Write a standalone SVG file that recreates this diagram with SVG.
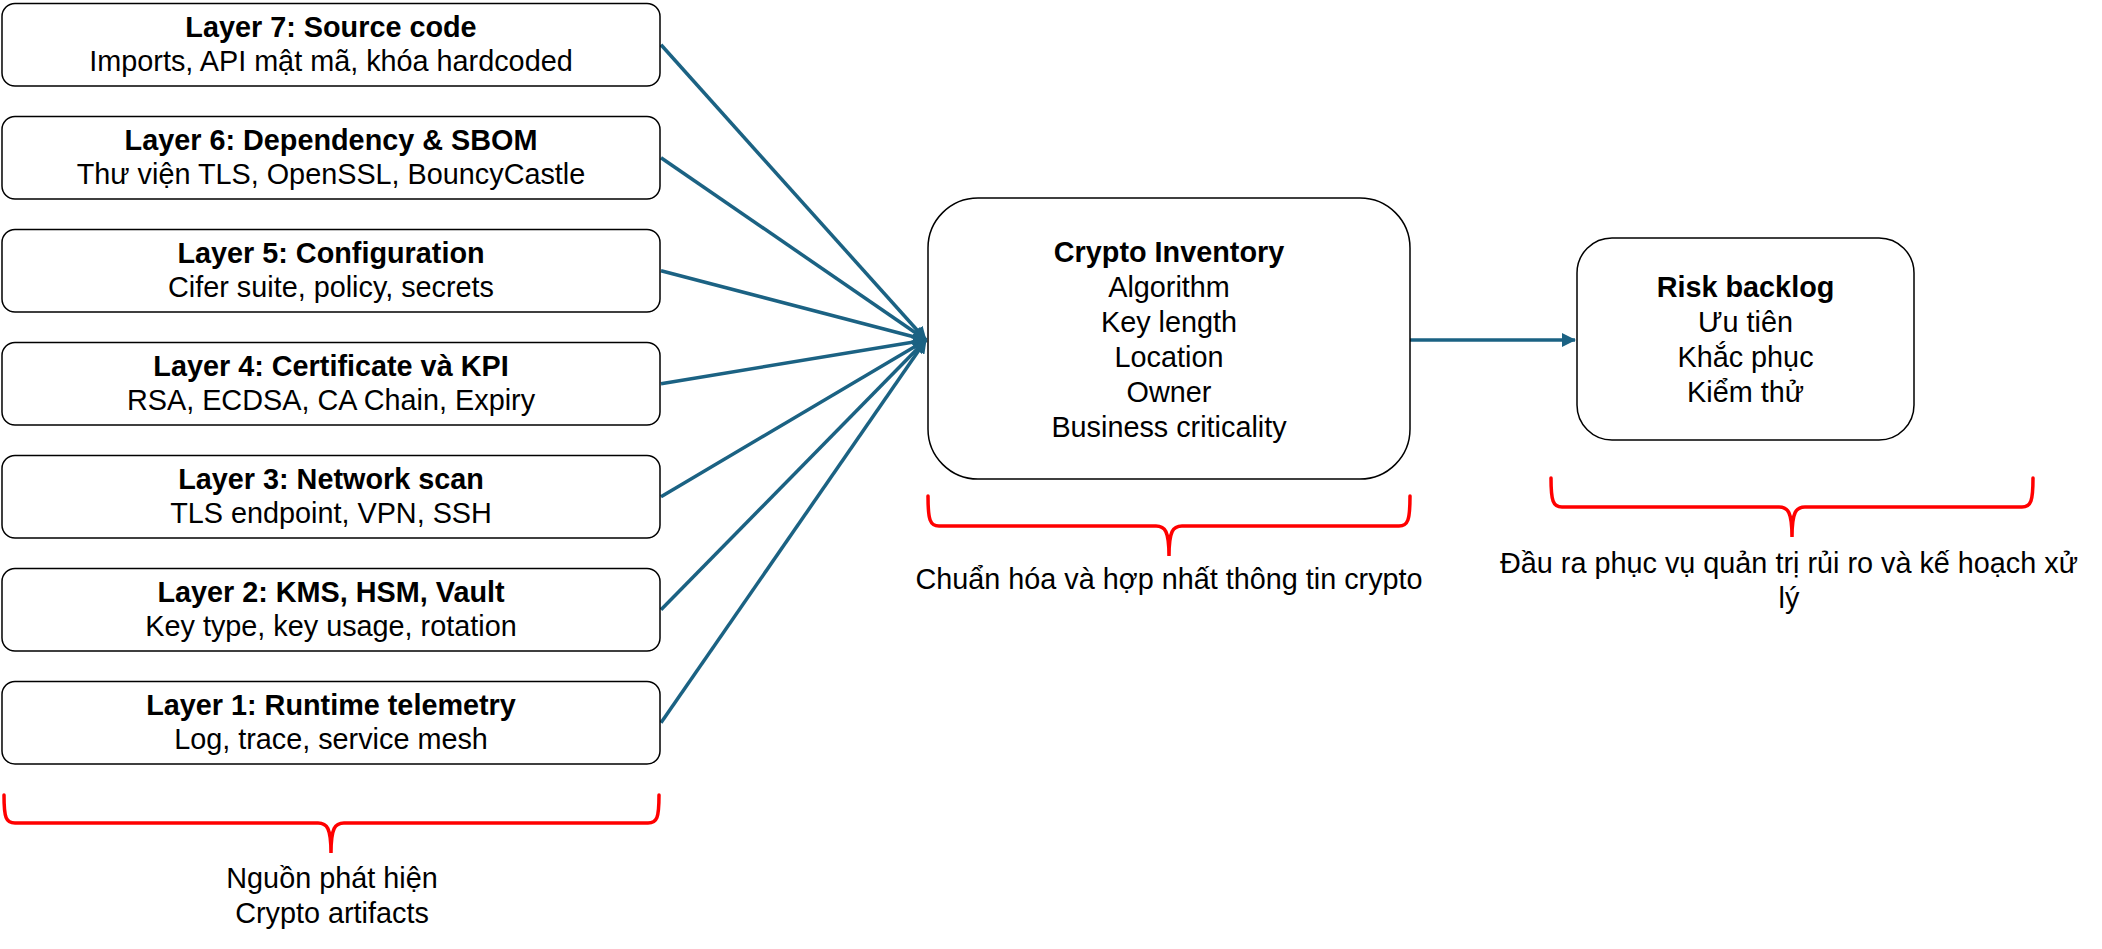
<svg xmlns="http://www.w3.org/2000/svg" width="2102" height="949" viewBox="0 0 2102 949">
<style>
.box{fill:#fff;stroke:#000;stroke-width:1.5}
.t{font-family:"Liberation Sans",Arial,sans-serif;font-size:28.8px;fill:#000;text-anchor:middle}
.b{font-weight:bold}
.con{stroke:#1B6283;stroke-width:3.5;fill:none}
.brace{stroke:#FF0000;stroke-width:3.5;fill:none;stroke-linecap:round}
</style>
<defs>
<marker id="ah" markerUnits="userSpaceOnUse" markerWidth="14" markerHeight="14" refX="13" refY="7" orient="auto" viewBox="0 0 14 14">
<path d="M0,0 L14,7 L0,14 z" fill="#1B6283"/>
</marker>
</defs>
<rect width="2102" height="949" fill="#fff"/>
<g id="connectors">
<line class="con" x1="661" y1="44.75" x2="926" y2="340" marker-end="url(#ah)"/>
<line class="con" x1="661" y1="157.75" x2="926" y2="340" marker-end="url(#ah)"/>
<line class="con" x1="661" y1="270.75" x2="926" y2="340" marker-end="url(#ah)"/>
<line class="con" x1="661" y1="383.75" x2="926" y2="340" marker-end="url(#ah)"/>
<line class="con" x1="661" y1="496.75" x2="926" y2="340" marker-end="url(#ah)"/>
<line class="con" x1="661" y1="609.75" x2="926" y2="340" marker-end="url(#ah)"/>
<line class="con" x1="661" y1="722.75" x2="926" y2="340" marker-end="url(#ah)"/>
<line class="con" x1="1410" y1="340" x2="1575" y2="340" marker-end="url(#ah)"/>
</g>
<g id="layer7">
<rect class="box" x="2" y="3.5" width="658" height="82.5" rx="13"/>
<text class="t b" x="331" y="36.5">Layer 7: Source code</text>
<text class="t" x="331" y="71">Imports, API mật mã, khóa hardcoded</text>
</g>
<g id="layer6">
<rect class="box" x="2" y="116.5" width="658" height="82.5" rx="13"/>
<text class="t b" x="331" y="149.5">Layer 6: Dependency &amp; SBOM</text>
<text class="t" x="331" y="184">Thư viện TLS, OpenSSL, BouncyCastle</text>
</g>
<g id="layer5">
<rect class="box" x="2" y="229.5" width="658" height="82.5" rx="13"/>
<text class="t b" x="331" y="262.5">Layer 5: Configuration</text>
<text class="t" x="331" y="297">Cifer suite, policy, secrets</text>
</g>
<g id="layer4">
<rect class="box" x="2" y="342.5" width="658" height="82.5" rx="13"/>
<text class="t b" x="331" y="375.5">Layer 4: Certificate và KPI</text>
<text class="t" x="331" y="410">RSA, ECDSA, CA Chain, Expiry</text>
</g>
<g id="layer3">
<rect class="box" x="2" y="455.5" width="658" height="82.5" rx="13"/>
<text class="t b" x="331" y="488.5">Layer 3: Network scan</text>
<text class="t" x="331" y="523">TLS endpoint, VPN, SSH</text>
</g>
<g id="layer2">
<rect class="box" x="2" y="568.5" width="658" height="82.5" rx="13"/>
<text class="t b" x="331" y="601.5">Layer 2: KMS, HSM, Vault</text>
<text class="t" x="331" y="636">Key type, key usage, rotation</text>
</g>
<g id="layer1">
<rect class="box" x="2" y="681.5" width="658" height="82.5" rx="13"/>
<text class="t b" x="331" y="714.5">Layer 1: Runtime telemetry</text>
<text class="t" x="331" y="749">Log, trace, service mesh</text>
</g>
<g id="inventory">
<rect class="box" x="928" y="198" width="482" height="281" rx="50"/>
<text class="t b" x="1169" y="262">Crypto Inventory</text>
<text class="t" x="1169" y="297">Algorithm</text>
<text class="t" x="1169" y="332">Key length</text>
<text class="t" x="1169" y="367">Location</text>
<text class="t" x="1169" y="402">Owner</text>
<text class="t" x="1169" y="437">Business criticality</text>
</g>
<g id="risk">
<rect class="box" x="1577" y="238" width="337" height="202" rx="35"/>
<text class="t b" x="1745.5" y="297">Risk backlog</text>
<text class="t" x="1745.5" y="332">Ưu tiên</text>
<text class="t" x="1745.5" y="367">Khắc phục</text>
<text class="t" x="1745.5" y="402">Kiểm thử</text>
</g>
<g id="brace-sources">
<path class="brace" d="M4,795 C4,818 6,823 15,823 L318,823 C327,823 331,828 331,853 C331,828 335,823 344,823 L648,823 C657,823 659,818 659,795"/>
<text class="t" x="332" y="888">Nguồn phát hiện</text>
<text class="t" x="332" y="923">Crypto artifacts</text>
</g>
<g id="brace-inventory">
<path class="brace" d="M928,496 C928,520 930,526 939,526 L1156,526 C1165,526 1169,531 1169,556 C1169,531 1173,526 1182,526 L1399,526 C1408,526 1410,520 1410,496"/>
<text class="t" x="1169" y="589">Chuẩn hóa và hợp nhất thông tin crypto</text>
</g>
<g id="brace-risk">
<path class="brace" d="M1551,478 C1551,501 1553,507 1562,507 L1779,507 C1788,507 1792,512 1792,537 C1792,512 1796,507 1805,507 L2022,507 C2031,507 2033,501 2033,478"/>
<text class="t" x="1789" y="573">Đầu ra phục vụ quản trị rủi ro và kế hoạch xử</text>
<text class="t" x="1789" y="608">lý</text>
</g>
</svg>
